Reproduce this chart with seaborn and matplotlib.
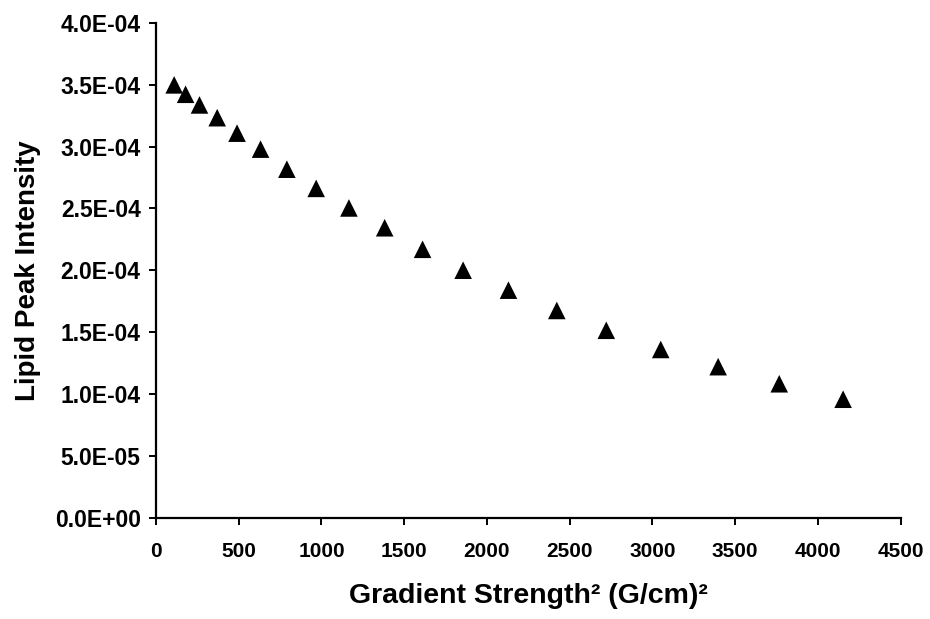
import matplotlib
matplotlib.use("Agg")
import matplotlib.pyplot as plt
import seaborn as sns
import pandas as pd
from matplotlib.ticker import FuncFormatter, MultipleLocator

# Data
gradient_sq = [110, 179, 263, 370, 490, 632, 791, 968, 1166, 1382, 1611,
               1856, 2130, 2422, 2721, 3050, 3397, 3766, 4152]
intensity = [3.498e-4, 3.422e-4, 3.336e-4, 3.233e-4, 3.108e-4, 2.979e-4,
             2.817e-4, 2.662e-4, 2.504e-4, 2.344e-4, 2.170e-4, 2.001e-4,
             1.840e-4, 1.676e-4, 1.516e-4, 1.361e-4, 1.222e-4, 1.084e-4,
             0.959e-4]

x_label = "Gradient Strength\u00b2 (G/cm)\u00b2"
y_label = "Lipid Peak Intensity"

df = pd.DataFrame({"g2": gradient_sq, "I": intensity})

sns.set_style("ticks")
plt.rcParams["font.family"] = ["Liberation Sans", "DejaVu Sans"]
plt.rcParams["font.weight"] = "bold"
plt.rcParams["text.color"] = "black"
plt.rcParams["axes.labelcolor"] = "black"

fig = plt.figure(figsize=(9.3, 6.19), dpi=100)
ax = fig.add_axes([0.1677, 0.1632, 0.8008, 0.8001])

sns.scatterplot(data=df, x="g2", y="I", marker="^", s=160, color="black",
                edgecolor="none", ax=ax, legend=False)

ax.set_xlim(0, 4500)
ax.set_ylim(0, 4e-4)
ax.xaxis.set_major_locator(MultipleLocator(500))
ax.yaxis.set_major_locator(MultipleLocator(5e-5))
ax.yaxis.set_major_formatter(FuncFormatter(lambda v, p: f"{v:.1E}"))

sns.despine(ax=ax)
for sp in ("left", "bottom"):
    ax.spines[sp].set_linewidth(1.6)
    ax.spines[sp].set_color("black")

ax.tick_params(axis="both", direction="out", length=5, width=1.4,
               colors="black")
ax.tick_params(axis="x", pad=12, labelsize=15)
ax.tick_params(axis="y", pad=6, labelsize=16.5)
for lab in ax.get_xticklabels() + ax.get_yticklabels():
    lab.set_fontweight("bold")

ax.set_xlabel(x_label, fontsize=20.5, fontweight="bold", labelpad=16,
              color="black")
ax.set_ylabel(y_label, fontsize=20, fontweight="bold", labelpad=10,
              color="black")

fig.savefig("out.png", dpi=100)
